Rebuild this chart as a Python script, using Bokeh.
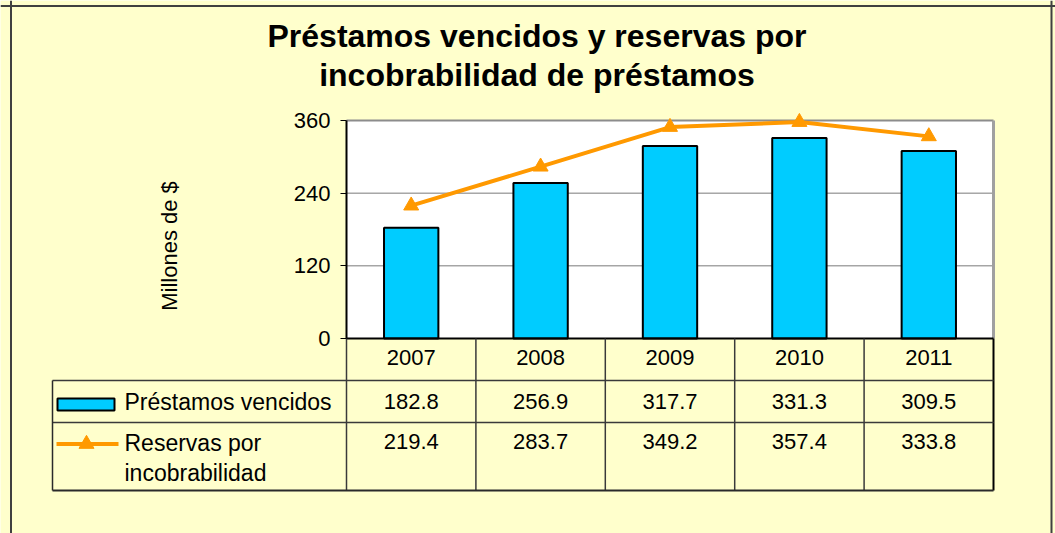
import math
from bokeh.plotting import figure
from bokeh.models import Range1d, LinearAxis, FixedTicker, Span
from bokeh.embed import file_html
from bokeh.resources import INLINE
from bokeh.core.properties import value

# ---------------- data ----------------
years = ["2007", "2008", "2009", "2010", "2011"]
prestamos = [182.8, 256.9, 317.7, 331.3, 309.5]
reservas = [219.4, 283.7, 349.2, 357.4, 333.8]
y_ticks = [0, 120, 240, 360]
series_names = ["Préstamos vencidos", "Reservas por incobrabilidad"]
title_lines = ["Préstamos vencidos y reservas por", "incobrabilidad de préstamos"]
y_label = "Millones de $"

# ---------------- layout helpers (page pixels -> data) ----------------
W, H = 1055, 533
PAGE = 0
X0, CW = 346.0, 129.4          # page x of first category column, column width
Y0, SC = 338.0, 218.0 / 360.0  # page y of value 0, pixels per unit


def dx(px):
    return (px - X0) / CW


def dy(py):
    return (Y0 - py) / SC


FONT = value("Liberation Sans")
FILL = "#FFFFCC"
n = len(years)
x_pos = [i + 0.5 for i in range(n)]
ymax = y_ticks[-1]

p = figure(width=W, height=H,
           x_range=Range1d(dx(PAGE), dx(PAGE + W)),
           y_range=Range1d(dy(PAGE + H), dy(PAGE)),
           x_axis_type=None, y_axis_type=None,
           min_border=0, toolbar_location=None, tools="",
           output_backend="svg")
p.background_fill_color = FILL
p.border_fill_color = FILL
p.outline_line_color = None

# plot area
p.quad(left=[0], right=[n], bottom=[y_ticks[0]], top=[ymax],
       fill_color="white", line_color=None)
for g in y_ticks[1:-1]:
    p.segment(x0=[0], x1=[n], y0=[g], y1=[g], line_color="#7a7a7a", line_width=1)
p.segment(x0=[0], x1=[n], y0=[ymax], y1=[ymax], line_color="#8c8c8c", line_width=2)
p.segment(x0=[n], x1=[n], y0=[0], y1=[ymax], line_color="#a0a0a0", line_width=3)

# bars
p.vbar(x=x_pos, top=prestamos, bottom=0, width=0.42,
       fill_color="#00CCFF", line_color="black", line_width=2)

# line with triangles
p.line(x_pos, reservas, line_color="#FF9900", line_width=4)
p.scatter(x_pos, reservas, marker="triangle", size=15,
          fill_color="#FF9900", line_color="#FF9900")

# y axis
yax = LinearAxis(fixed_location=0, ticker=FixedTicker(ticks=y_ticks),
                 bounds=(y_ticks[0], ymax))
yax.axis_line_color = "black"
yax.axis_line_width = 2
yax.major_tick_out = 6
yax.major_tick_in = 0
yax.major_tick_line_color = "black"
yax.minor_tick_out = 0
yax.minor_tick_in = 0
yax.major_label_standoff = 10
yax.major_label_text_font = "Liberation Sans"
yax.major_label_text_font_size = "22px"
yax.major_label_text_color = "black"
p.add_layout(yax, "left")

# x axis baseline
p.segment(x0=[0], x1=[n], y0=[0], y1=[0], line_color="black", line_width=2)

# ---------------- data table ----------------
tbl_bottom = dy(490)
tbl_left = dx(52)
for k in range(n + 1):
    p.segment(x0=[k], x1=[k], y0=[0], y1=[tbl_bottom],
              line_color="black" if k == n else "#3a3a3a",
              line_width=2 if k == n else 1.5)
for py in (380, 422):
    p.segment(x0=[tbl_left], x1=[n], y0=[dy(py)], y1=[dy(py)],
              line_color="#3a3a3a", line_width=1.5)
p.segment(x0=[tbl_left], x1=[n], y0=[tbl_bottom], y1=[tbl_bottom],
          line_color="#2a2a2a", line_width=2)
p.segment(x0=[tbl_left], x1=[tbl_left], y0=[dy(380)], y1=[tbl_bottom],
          line_color="#2a2a2a", line_width=1.5)

txt = dict(text_font=FONT, text_font_size="22px", text_color="black",
           text_baseline="middle")
p.text(x=x_pos, y=[dy(356.7)] * n, text=years, text_align="center", **txt)
p.text(x=x_pos, y=[dy(401.2)] * n, text=[f"{v:.1f}" for v in prestamos],
       text_align="center", **txt)
p.text(x=x_pos, y=[dy(441.2)] * n, text=[f"{v:.1f}" for v in reservas],
       text_align="center", **txt)

# legend keys inside the table
p.quad(left=[dx(57)], right=[dx(114)], bottom=[dy(410)], top=[dy(398)],
       fill_color="#00CCFF", line_color="black", line_width=2)
p.segment(x0=[dx(56)], x1=[dx(118)], y0=[dy(443.5)], y1=[dy(443.5)],
          line_color="#FF9900", line_width=4)
p.scatter([dx(86)], [dy(443.5)], marker="triangle", size=15,
          fill_color="#FF9900", line_color="#FF9900")
name2 = series_names[1].rsplit(" ", 1)
p.text(x=[dx(124)] * 3, y=[dy(401.7), dy(442), dy(472)],
       text=[series_names[0], name2[0], name2[1]], text_align="left",
       text_font=FONT, text_font_size="23px", text_color="black",
       text_baseline="middle")

# y axis label
p.text(x=[dx(169)], y=[dy(245.5)], text=[y_label], angle=math.pi / 2,
       text_align="center", **txt)

# title
p.text(x=[dx(536.5)] * 2, y=[dy(35.5), dy(74.5)], text=title_lines,
       text_align="center", text_baseline="middle", text_font=FONT,
       text_font_size="32px", text_font_style="bold", text_color="black")

# outer border (left, top, right)
for loc, dim in ((dx(10.5), "height"), (dx(1051), "height"), (dy(5.5), "width")):
    p.add_layout(Span(location=loc, dimension=dim, line_color="#404040", line_width=2))

open("out.html", "w").write(file_html(p, INLINE))
